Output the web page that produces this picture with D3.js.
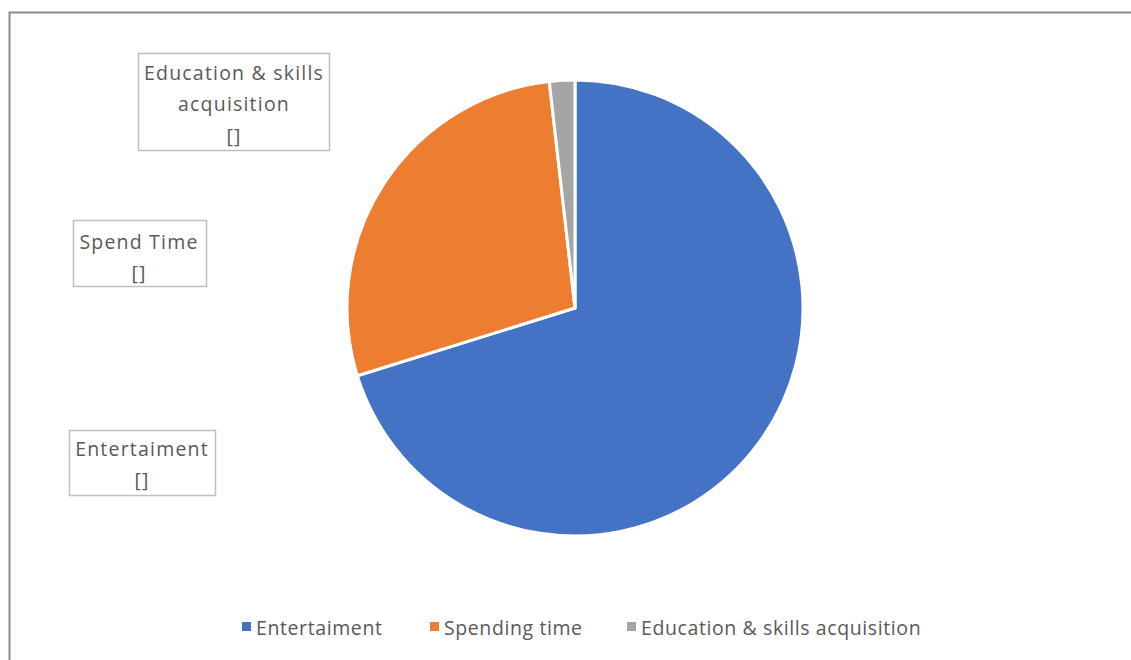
<!DOCTYPE html>
<html><head><meta charset="utf-8">
<script src="https://cdn.jsdelivr.net/npm/d3@7"></script>
<style>body{margin:0;background:#fff;} svg{display:block;font-family:"Open Sans","Liberation Sans",sans-serif;}</style>
</head><body>
<svg id="c" width="1131" height="660"></svg>
<script>
const categories = ["Entertaiment", "Spending time", "Education & skills acquisition"];
const values = [70.2, 28.0, 1.8];
const labelLines = [["Entertaiment", "[]"], ["Spend Time", "[]"], ["Education & skills", "acquisition", "[]"]];
const colors = ["#4472C4", "#ED7D31", "#A5A5A5"];

const svg = d3.select("#c");
svg.append("rect").attr("x", 9.5).attr("y", 12.5).attr("width", 1200).attr("height", 700)
  .attr("fill", "none").attr("stroke", "#8c8c8c").attr("stroke-width", 2);

const cx = 575, cy = 308, r = 228;
const pie = d3.pie().sort(null).value(d => d)(values);
const arc = d3.arc().innerRadius(0).outerRadius(r);
const g = svg.append("g").attr("transform", `translate(${cx},${cy})`);
g.selectAll("path").data(pie).join("path")
  .attr("d", arc).attr("fill", (d, i) => colors[i])
  .attr("stroke", "#fff").attr("stroke-width", 3).attr("stroke-linejoin", "round");

// data label boxes
const boxes = [
  {x: 69, y: 430, w: 146, h: 65, cx: 142, ty: 448},
  {x: 73, y: 220, w: 133, h: 66, cx: 139, ty: 241},
  {x: 138, y: 53, w: 191, h: 97, cx: 234, ty: 72}
];
boxes.forEach((b, i) => {
  svg.append("rect").attr("x", b.x + 0.5).attr("y", b.y + 0.5).attr("width", b.w).attr("height", b.h)
    .attr("fill", "#fff").attr("stroke", "#bfbfbf").attr("stroke-width", 1.5);
  labelLines[i].forEach((t, j) => {
    svg.append("text").attr("x", b.cx).attr("y", b.ty + j * 31.5)
      .attr("text-anchor", "middle").attr("dominant-baseline", "central")
      .attr("fill", "#595959").attr("font-size", 19.5).attr("letter-spacing", 1.2).text(t);
  });
});

// legend
const legX = [242, 430, 627];
const lg = svg.append("g");
categories.forEach((c, i) => {
  lg.append("rect").attr("x", legX[i]).attr("y", 622).attr("width", 9).attr("height", 9).attr("fill", colors[i]);
  lg.append("text").attr("x", legX[i] + 14).attr("y", 627).attr("dominant-baseline", "central")
    .attr("fill", "#595959").attr("font-size", 19.5).attr("letter-spacing", 0.6).text(c);
});
</script>
</body></html>
